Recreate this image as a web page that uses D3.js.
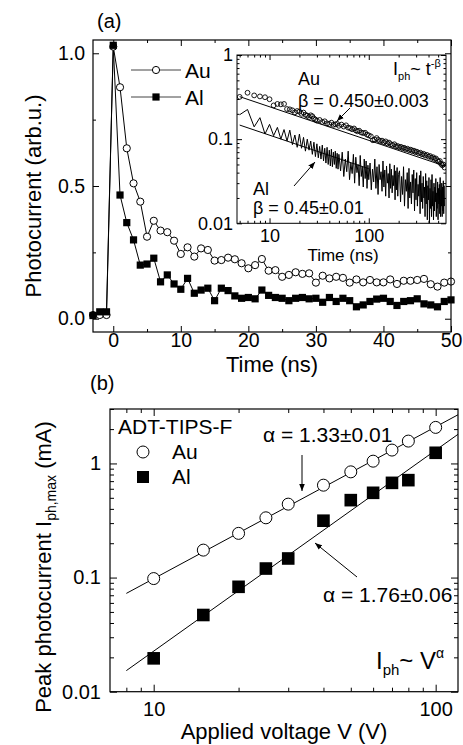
<!DOCTYPE html>
<html><head><meta charset="utf-8">
<script src="https://cdn.jsdelivr.net/npm/d3@7/dist/d3.min.js"></script>
<style>
body{margin:0;background:#fff}
svg{display:block}
text{font-family:"Liberation Sans",Arial,Helvetica,sans-serif;fill:#000}
</style></head>
<body><svg id="c" width="463" height="745"></svg>
<script>
// ---------------- DATA ----------------
// panel (a): normalized photocurrent vs time
const timeNs = [-3,-2,-1,0,1,2,3,4,5,6,7,8,9,10,11,12,13,14,15,16,17,18,19,20,21,22,23,24,25,26,27,28,29,30,31,32,33,34,35,36,37,38,39,40,41,42,43,44,45,46,47,48,49,50];
const auNorm = [0.014,0.014,0.014,1.025,0.872,0.642,0.51,0.441,0.309,0.369,0.332,0.326,0.294,0.244,0.269,0.234,0.265,0.259,0.219,0.221,0.23,0.224,0.209,0.19,0.202,0.225,0.181,0.183,0.158,0.165,0.175,0.169,0.171,0.136,0.162,0.152,0.158,0.154,0.136,0.148,0.137,0.146,0.137,0.137,0.148,0.131,0.143,0.143,0.146,0.15,0.13,0.121,0.136,0.14];
const alNorm = [0.012,0.026,0.026,1.03,0.466,0.362,0.297,0.202,0.206,0.228,0.139,0.165,0.131,0.111,0.152,0.096,0.108,0.115,0.068,0.115,0.106,0.086,0.077,0.08,0.075,0.108,0.088,0.08,0.077,0.068,0.077,0.08,0.075,0.077,0.062,0.08,0.065,0.077,0.068,0.045,0.052,0.065,0.074,0.077,0.065,0.05,0.065,0.068,0.075,0.056,0.052,0.045,0.065,0.071];
const seriesNames = ["Au","Al"];

// inset: log-log decay [time ns, photocurrent]
const insetAu = [[5,.318],[6,.356],[7,.331],[8,.322],[9,.315],[10,.298],[11,.252],[12,.262],[13,.259],[14,.262],[15,.228],[16,.226],[17,.22],[18,.208],[19,.216],[20,.212],[21,.2],[22,.207],[23,.195],[24,.19],[25,.183],[26,.192],[27,.187],[28,.176],[29,.171],[30,.166],[32,.169],[34,.16],[36,.163],[38,.154],[40,.151],[42,.157],[44,.148],[46,.15],[48,.152],[50,.144],[53,.149],[56,.141],[59,.146],[62,.137],[65,.135],[68,.131],[71,.134],[74,.127],[77,.124],[80,.126],[84,.12],[88,.118],[92,.119],[96,.113],[100,.111],[105,.108],[110,.097],[115,.099],[120,.103],[125,.098],[130,.095],[136,.096],[142,.092],[148,.094],[154,.089],[160,.091],[167,.087],[174,.085],[181,.087],[188,.082],[195,.083],[203,.08],[211,.081],[219,.078],[227,.079],[235,.076],[245,.077],[255,.074],[265,.075],[275,.072],[285,.073],[295,.07],[305,.071],[318,.068],[331,.069],[344,.066],[357,.067],[370,.064],[385,.065],[400,.062],[415,.063],[430,.06],[445,.061],[460,.058],[475,.059],[490,.056],[505,.054],[520,.055],[535,.051],[550,.049],[565,.05],[580,.046]];
const insetAl = [[5,.195],[6,.225],[7,.14],[8,.18],[9,.115],[10,.15],[11,.11],[12,.138],[13,.1],[14,.13],[15,.095],[16,.128],[17,.086],[18,.112],[19,.08],[20,.115],[21,.078],[22,.105],[23,.072],[24,.1],[25,.074],[26,.095],[27,.066],[28,.092],[29,.062],[30,.088],[31,.06],[32,.082],[33,.058],[34,.085],[35,.055],[36,.078],[37,.052],[38,.08],[39,.05],[40,.074],[41,.048],[42,.076],[43,.047],[44,.07],[45,.05],[46,.072],[47,.045],[48,.068],[49,.044],[50,.066],
[52,.042],[54,.07],[56,.036],[58,.058],[60,.041],[62,.072],[64,.033],[66,.052],[68,.039],[70,.066],[72,.03],[74,.061],[76,.04],[78,.05],[80,.028],[82,.064],[84,.036],[86,.047],[88,.027],[90,.058],[92,.034],[94,.055],[96,.026],[98,.049],[100,.033],
[103,.052],[106,.025],[109,.044],[112,.031],[115,.058],[118,.026],[121,.047],[124,.022],[127,.05],[130,.033],[133,.041],[136,.024],[139,.055],[142,.027],[145,.043],[148,.021],[151,.048],[154,.03],[157,.039],[160,.02],[163,.051],[166,.026],[169,.044],[172,.023],[175,.037],[178,.028],[181,.049],[184,.019],[187,.042],[190,.025],[193,.046],[196,.021],[199,.038],
[204,.042],[209,.018],[214,.036],[219,.022],[224,.047],[229,.016],[234,.033],[239,.024],[244,.04],[249,.015],[254,.045],[259,.02],[264,.031],[269,.017],[274,.038],[279,.023],[284,.043],[289,.014],[294,.034],[299,.019],[304,.04],[309,.016],[314,.029],[319,.021],[324,.037],[329,.013],[334,.042],[339,.018],[344,.03],[349,.015],[354,.036],[359,.02],[364,.027],[369,.012],[374,.039],[379,.017],[384,.032],[389,.011],[394,.028],[399,.019],[404,.035],[409,.01],[414,.026],[419,.015],[424,.033],[429,.012],[434,.038],[439,.016],[444,.024],[449,.011],[454,.03],[459,.014],[464,.027],[469,.018],[474,.034],[479,.012],[484,.023],[489,.015],[494,.031],[499,.011],[504,.026],[509,.017],[514,.029],[519,.013],[524,.035],[529,.012],[534,.025],[539,.016],[544,.03],[549,.012],[554,.027],[559,.014],[564,.032],[569,.013],[574,.028],[579,.016]];
const insetAuFit = [[5,0.32],[580,0.048]];
const insetAlFit = [[5,0.147],[100,0.0445]];

// panel (b): peak photocurrent vs applied voltage
const voltage = [10,15,20,25,30,40,50,60,70,80,100];
const auPeak = [0.098,0.174,0.244,0.334,0.44,0.645,0.844,1.047,1.31,1.57,2.07];
const alPeak = [0.0196,0.047,0.083,0.12,0.147,0.315,0.477,0.553,0.676,0.714,1.24];
const fitV = [8,120];
const auFit = [0.0727,2.67];
const alFit = [0.0153,1.80];

// ticks
const aXMajor = [0,10,20,30,40,50], aXMinor = [5,15,25,35,45];
const aYMajor = [0,0.5,1.0], aYMinor = [0.25,0.75];
const inXMajor = [10,100], inXMinor = [5,6,7,8,9,20,30,40,50,60,70,80,90,200,300,400,500];
const inYMajor = [0.01,0.1,1], inYMinor = [0.02,0.03,0.04,0.05,0.06,0.07,0.08,0.09,0.2,0.3,0.4,0.5,0.6,0.7,0.8,0.9];
const bXMajor = [10,100], bXMinor = [8,9,20,30,40,50,60,70,80,90];
const bYMajor = [0.01,0.1,1], bYMinor = [0.02,0.03,0.04,0.05,0.06,0.07,0.08,0.09,0.2,0.3,0.4,0.5,0.6,0.7,0.8,0.9,2,3];

// ---------------- DRAW ----------------
const svg = d3.select('#c');
const FONT = '"Liberation Sans",Arial,sans-serif';
const defs = svg.append('defs');
defs.append('marker').attr('id','ah').attr('viewBox','0 0 10 10').attr('refX',10).attr('refY',5)
  .attr('markerWidth',7).attr('markerHeight',7).attr('orient','auto').attr('markerUnits','userSpaceOnUse')
  .append('path').attr('d','M0,1 L10,5 L0,9 Z').attr('fill','#000');

function styleAxis(g, fs){
  g.select('.domain').remove();
  g.attr('font-family',FONT).attr('font-size',fs);
  g.selectAll('line').attr('stroke','#000').attr('stroke-width',1);
  g.selectAll('text').attr('fill','#000');
}
function frameAxes(g, x, y, o){
  const [x0,x1] = x.range(), [y0,y1] = y.range();
  const add = (axisFn, scale, vals, size, tr, fmt, pad) => {
    const a = axisFn(scale).tickValues(vals).tickSize(-size).tickPadding(pad||4).tickFormat(fmt || (()=>''));
    g.append('g').attr('transform',tr).call(a).call(s=>styleAxis(s,o.fs));
  };
  add(d3.axisBottom, x, o.xMajor, o.maj, `translate(0,${y0})`, o.xFmt, o.xPad);
  add(d3.axisBottom, x, o.xMinor, o.min, `translate(0,${y0})`);
  add(d3.axisTop, x, o.xMajor, o.maj, `translate(0,${y1})`);
  add(d3.axisTop, x, o.xMinor, o.min, `translate(0,${y1})`);
  add(d3.axisLeft, y, o.yMajor, o.maj, `translate(${x0},0)`, o.yFmt, o.yPad);
  add(d3.axisLeft, y, o.yMinor, o.min, `translate(${x0},0)`);
  add(d3.axisRight, y, o.yMajor, o.maj, `translate(${x1},0)`);
  add(d3.axisRight, y, o.yMinor, o.min, `translate(${x1},0)`);
  g.append('rect').attr('x',x0).attr('y',y1).attr('width',x1-x0).attr('height',y0-y1)
    .attr('fill','none').attr('stroke','#000').attr('stroke-width',o.sw||1.2);
}

// ---- panel (a)
const xa = d3.scaleLinear().domain([-3,50]).range([93,451]);
const ya = d3.scaleLinear().domain([-0.05,1.05]).range([332,40]);
const ga = svg.append('g');
const lineA = d3.line().x(d=>xa(d[0])).y(d=>ya(d[1]));
const auPts = timeNs.map((t,i)=>[t,auNorm[i]]);
const alPts = timeNs.map((t,i)=>[t,alNorm[i]]);
ga.append('path').attr('d',lineA(auPts)).attr('fill','none').attr('stroke','#000').attr('stroke-width',1);
ga.append('path').attr('d',lineA(alPts)).attr('fill','none').attr('stroke','#000').attr('stroke-width',1);
ga.selectAll('circle.au').data(auPts).join('circle').attr('cx',d=>xa(d[0])).attr('cy',d=>ya(d[1])).attr('r',3.6)
  .attr('fill','#fff').attr('stroke','#000').attr('stroke-width',1);
ga.selectAll('rect.al').data(alPts).join('rect').attr('x',d=>xa(d[0])-3.6).attr('y',d=>ya(d[1])-3.6)
  .attr('width',7.2).attr('height',7.2).attr('fill','#000');
frameAxes(ga, xa, ya, {xMajor:aXMajor,xMinor:aXMinor,yMajor:aYMajor,yMinor:aYMinor,maj:6,min:3,fs:19.5,
  xFmt:d3.format('d'), yFmt:d3.format('.1f'), xPad:1, yPad:8});
// legend
const legA = ga.append('g');
seriesNames.forEach((nm,i)=>{
  const yy = 70 + i*27;
  legA.append('line').attr('x1',131).attr('x2',181).attr('y1',yy).attr('y2',yy).attr('stroke','#444').attr('stroke-width',1);
  if(i===0) legA.append('circle').attr('cx',156).attr('cy',yy).attr('r',3.6).attr('fill','#fff').attr('stroke','#000');
  else legA.append('rect').attr('x',152.4).attr('y',yy-3.6).attr('width',7.2).attr('height',7.2).attr('fill','#000');
  legA.append('text').attr('x',185).attr('y',yy+7.5).attr('font-size',21).text(nm);
});
svg.append('text').attr('x',97).attr('y',28).attr('font-size',20).text('(a)');
svg.append('text').attr('transform','translate(41,196) rotate(-90)').attr('text-anchor','middle').attr('font-size',22).text('Photocurrent (arb.u.)');
svg.append('text').attr('x',272).attr('y',372).attr('text-anchor','middle').attr('font-size',22).text('Time (ns)');

// ---- inset
const xi = d3.scaleLog().domain([4.7,600]).range([237,446]);
const yi = d3.scaleLog().domain([0.01,1]).range([223.3,55]);
const gi = svg.append('g');
gi.append('rect').attr('x',237).attr('y',55).attr('width',209).attr('height',168.3).attr('fill','#fff');
defs.append('clipPath').attr('id','ic').append('rect').attr('x',237).attr('y',55).attr('width',209).attr('height',168.3);
const gic = gi.append('g').attr('clip-path','url(#ic)');
const lineI = d3.line().x(d=>xi(d[0])).y(d=>yi(d[1]));
gic.append('path').attr('d',lineI(insetAl)).attr('fill','none').attr('stroke','#000').attr('stroke-width',1);
gic.append('path').attr('d',lineI(insetAlFit)).attr('fill','none').attr('stroke','#000').attr('stroke-width',1);
gic.append('path').attr('d',lineI(insetAuFit)).attr('fill','none').attr('stroke','#000').attr('stroke-width',1);
gic.selectAll('circle').data(insetAu).join('circle').attr('cx',d=>xi(d[0])).attr('cy',d=>yi(d[1])).attr('r',2.4)
  .attr('fill','none').attr('stroke','#000').attr('stroke-width',0.9);
frameAxes(gi, xi, yi, {xMajor:inXMajor,xMinor:inXMinor,yMajor:inYMajor,yMinor:inYMinor,maj:5,min:2.5,fs:18,
  xFmt:d3.format('d'), yFmt:d=>d===1?'1':(d===0.1?'0.1':'0.01'), xPad:6, yPad:4, sw:1});
svg.append('text').attr('x',343).attr('y',261).attr('text-anchor','middle').attr('font-size',17).text('Time (ns)');
svg.append('text').attr('x',298).attr('y',85).attr('font-size',18).text('Au');
svg.append('text').attr('x',298).attr('y',107).attr('font-size',18).text('β = 0.450±0.003');
svg.append('text').attr('x',253).attr('y',195).attr('font-size',18).text('Al');
svg.append('text').attr('x',253).attr('y',214).attr('font-size',18).text('β = 0.45±0.01');
const fI = svg.append('text').attr('x',393).attr('y',75).attr('font-size',18);
fI.append('tspan').text('I');
fI.append('tspan').attr('font-size',11).attr('dy',5).text('ph');
fI.append('tspan').attr('dy',-5).text('~ t');
fI.append('tspan').attr('font-size',11).attr('dy',-8).text('-β');
svg.append('line').attr('x1',350).attr('y1',108).attr('x2',337).attr('y2',121).attr('stroke','#000').attr('marker-end','url(#ah)');
svg.append('line').attr('x1',294).attr('y1',186).attr('x2',315).attr('y2',162).attr('stroke','#000').attr('marker-end','url(#ah)');

// ---- panel (b)
const xb = d3.scaleLog().domain([7,120]).range([110,458]);
const yb = d3.scaleLog().domain([0.01,3]).range([691.7,409]);
const gb = svg.append('g');
const lineB = d3.line().x(d=>xb(d[0])).y(d=>yb(d[1]));
gb.append('path').attr('d',lineB(fitV.map((v,i)=>[v,auFit[i]]))).attr('stroke','#000').attr('fill','none');
gb.append('path').attr('d',lineB(fitV.map((v,i)=>[v,alFit[i]]))).attr('stroke','#000').attr('fill','none');
gb.selectAll('circle').data(voltage.map((v,i)=>[v,auPeak[i]])).join('circle')
  .attr('cx',d=>xb(d[0])).attr('cy',d=>yb(d[1])).attr('r',6).attr('fill','#fff').attr('stroke','#000').attr('stroke-width',1);
gb.selectAll('rect.sq').data(voltage.map((v,i)=>[v,alPeak[i]])).join('rect')
  .attr('x',d=>xb(d[0])-6.3).attr('y',d=>yb(d[1])-6.3).attr('width',12.6).attr('height',12.6).attr('fill','#000');
frameAxes(gb, xb, yb, {xMajor:bXMajor,xMinor:bXMinor,yMajor:bYMajor,yMinor:bYMinor,maj:7,min:4,fs:20,
  xFmt:d3.format('d'), yFmt:d=>d===1?'1':(d===0.1?'0.1':'0.01'), xPad:10, yPad:9});
svg.append('text').attr('x',90).attr('y',390).attr('font-size',20).text('(b)');
svg.append('text').attr('x',118).attr('y',434).attr('font-size',21).text('ADT-TIPS-F');
gb.append('circle').attr('cx',143).attr('cy',452).attr('r',6).attr('fill','#fff').attr('stroke','#000');
svg.append('text').attr('x',172).attr('y',459).attr('font-size',21).text(seriesNames[0]);
gb.append('rect').attr('x',137).attr('y',471).attr('width',12).attr('height',12).attr('fill','#000');
svg.append('text').attr('x',172).attr('y',484).attr('font-size',21).text(seriesNames[1]);
svg.append('text').attr('x',263).attr('y',442).attr('font-size',21).text('α = 1.33±0.01');
svg.append('text').attr('x',323).attr('y',602).attr('font-size',21).text('α = 1.76±0.06');
svg.append('line').attr('x1',302).attr('y1',455).attr('x2',302).attr('y2',491).attr('stroke','#000').attr('marker-end','url(#ah)');
svg.append('line').attr('x1',357).attr('y1',577).attr('x2',315).attr('y2',543).attr('stroke','#000').attr('marker-end','url(#ah)');
const fB = svg.append('text').attr('x',376).attr('y',669).attr('font-size',24);
fB.append('tspan').text('I');
fB.append('tspan').attr('font-size',15).attr('dy',6).text('ph');
fB.append('tspan').attr('dy',-6).text('~ V');
fB.append('tspan').attr('font-size',14).attr('dy',-11).text('α');
const yt = svg.append('text').attr('transform','translate(51,567) rotate(-90)').attr('text-anchor','middle').attr('font-size',22);
yt.append('tspan').text('Peak photocurrent I');
yt.append('tspan').attr('font-size',14).attr('dy',5).text('ph,max');
yt.append('tspan').attr('dy',-5).text(' (mA)');
svg.append('text').attr('x',284).attr('y',739).attr('text-anchor','middle').attr('font-size',22).text('Applied voltage V (V)');
</script></body></html>
